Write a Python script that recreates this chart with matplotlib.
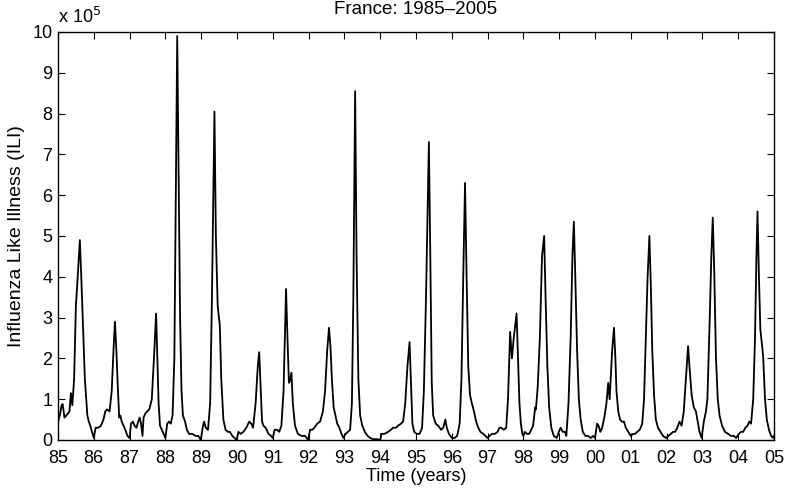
import numpy as np
import matplotlib
matplotlib.use("Agg")
import matplotlib.pyplot as plt

# weekly ILI cases (x 1e5) at key points
t_years = [
    85.00, 85.05, 85.10, 85.13, 85.18, 85.23, 85.28, 85.32, 85.36, 85.40,
    85.45, 85.50, 85.53, 85.61, 85.65, 85.69, 85.75, 85.82, 85.86, 85.90,
    85.95, 86.00, 86.05, 86.12, 86.20, 86.27, 86.32, 86.37, 86.44, 86.50,
    86.55, 86.59, 86.63, 86.67, 86.71, 86.74, 86.78, 86.83, 86.88, 86.94,
    87.00, 87.04, 87.09, 87.14, 87.19, 87.24, 87.28, 87.32, 87.36, 87.39,
    87.44, 87.49, 87.55, 87.62, 87.68, 87.74, 87.78, 87.81, 87.85, 87.90,
    87.95, 88.00, 88.05, 88.10, 88.15, 88.20, 88.25, 88.29, 88.33, 88.37,
    88.41, 88.45, 88.49, 88.55, 88.60, 88.66, 88.75, 88.85, 88.92, 88.99,
    89.04, 89.08, 89.13, 89.19, 89.25, 89.30, 89.37, 89.41, 89.46, 89.52,
    89.56, 89.62, 89.68, 89.74, 89.80, 89.87, 89.93, 89.99, 90.04, 90.10,
    90.18, 90.26, 90.34, 90.40, 90.45, 90.52, 90.58, 90.62, 90.66, 90.70,
    90.74, 90.80, 90.88, 90.95, 91.00, 91.05, 91.12, 91.18, 91.24, 91.30,
    91.37, 91.41, 91.45, 91.48, 91.52, 91.56, 91.62, 91.70, 91.80, 91.90,
    91.99, 92.04, 92.10, 92.16, 92.24, 92.32, 92.40, 92.46, 92.52, 92.57,
    92.61, 92.65, 92.70, 92.75, 92.80, 92.86, 92.92, 92.97, 93.03, 93.10,
    93.16, 93.21, 93.25, 93.30, 93.34, 93.39, 93.44, 93.50, 93.57, 93.65,
    93.72, 93.80, 93.90, 94.00, 94.04, 94.12, 94.22, 94.30, 94.36, 94.44,
    94.50, 94.58, 94.64, 94.70, 94.76, 94.82, 94.86, 94.90, 94.95, 95.02,
    95.10, 95.17, 95.22, 95.28, 95.36, 95.40, 95.44, 95.48, 95.55, 95.62,
    95.70, 95.76, 95.82, 95.86, 95.92, 96.00, 96.08, 96.15, 96.22, 96.27,
    96.32, 96.37, 96.41, 96.46, 96.51, 96.56, 96.62, 96.68, 96.74, 96.80,
    96.88, 96.94, 96.99, 97.05, 97.12, 97.20, 97.28, 97.33, 97.38, 97.45,
    97.52, 97.57, 97.63, 97.68, 97.73, 97.81, 97.85, 97.89, 97.93, 97.97,
    98.00, 98.04, 98.10, 98.16, 98.22, 98.27, 98.33, 98.35, 98.40, 98.46,
    98.52, 98.58, 98.62, 98.67, 98.72, 98.78, 98.85, 98.93, 98.99, 99.04,
    99.10, 99.16, 99.20, 99.26, 99.32, 99.37, 99.41, 99.45, 99.50, 99.55,
    99.60, 99.66, 99.73, 99.80, 99.88, 99.95, 100.00, 100.06, 100.10, 100.15,
    100.20, 100.26, 100.32, 100.37, 100.41, 100.44, 100.48, 100.53, 100.57, 100.60,
    100.65, 100.70, 100.75, 100.81, 100.86, 100.93, 101.00, 101.06, 101.12, 101.18,
    101.25, 101.32, 101.37, 101.42, 101.47, 101.52, 101.56, 101.60, 101.65, 101.70,
    101.76, 101.83, 101.90, 101.98, 102.05, 102.12, 102.18, 102.24, 102.30, 102.36,
    102.42, 102.48, 102.54, 102.60, 102.64, 102.70, 102.76, 102.82, 102.87, 102.92,
    102.98, 103.04, 103.10, 103.14, 103.20, 103.25, 103.29, 103.33, 103.38, 103.43,
    103.48, 103.55, 103.63, 103.72, 103.80, 103.88, 103.94, 104.02, 104.08, 104.14,
    104.20, 104.26, 104.31, 104.36, 104.42, 104.47, 104.51, 104.54, 104.58, 104.62,
    104.67, 104.70, 104.75, 104.80, 104.86, 104.92, 104.98, 105.00,
]
ili = [
    0.45, 0.60, 0.85, 0.88, 0.55, 0.60, 0.65, 0.70, 1.15, 0.85,
    1.50, 3.30, 3.70, 4.90, 4.00, 3.00, 1.50, 0.60, 0.45, 0.35,
    0.20, 0.05, 0.30, 0.30, 0.35, 0.50, 0.70, 0.75, 0.70, 1.20,
    2.20, 2.90, 2.20, 1.30, 0.55, 0.60, 0.45, 0.35, 0.25, 0.10,
    0.05, 0.40, 0.45, 0.35, 0.30, 0.45, 0.55, 0.40, 0.10, 0.55,
    0.65, 0.70, 0.75, 1.00, 2.00, 3.10, 1.80, 0.90, 0.35, 0.25,
    0.15, 0.05, 0.40, 0.45, 0.40, 0.60, 2.00, 6.00, 9.90, 6.50,
    3.00, 1.20, 0.60, 0.45, 0.25, 0.15, 0.15, 0.10, 0.10, 0.00,
    0.30, 0.45, 0.30, 0.25, 0.90, 3.50, 8.05, 5.00, 3.30, 2.80,
    1.50, 0.50, 0.25, 0.20, 0.20, 0.10, 0.05, 0.00, 0.20, 0.15,
    0.20, 0.30, 0.45, 0.40, 0.30, 0.90, 1.80, 2.15, 1.30, 0.45,
    0.35, 0.30, 0.15, 0.10, 0.05, 0.25, 0.25, 0.20, 0.35, 1.20,
    3.70, 2.50, 1.40, 1.45, 1.65, 0.90, 0.35, 0.15, 0.10, 0.10,
    0.00, 0.25, 0.25, 0.30, 0.40, 0.45, 0.70, 1.20, 2.20, 2.75,
    2.30, 1.50, 0.80, 0.60, 0.40, 0.30, 0.15, 0.05, 0.15, 0.20,
    0.25, 0.90, 3.50, 8.55, 4.50, 1.50, 0.60, 0.35, 0.20, 0.10,
    0.05, 0.02, 0.02, 0.00, 0.15, 0.15, 0.20, 0.25, 0.30, 0.30,
    0.35, 0.40, 0.45, 0.90, 1.80, 2.40, 1.40, 0.40, 0.20, 0.15,
    0.15, 0.30, 1.20, 3.50, 7.30, 4.50, 1.40, 0.60, 0.40, 0.35,
    0.25, 0.30, 0.50, 0.30, 0.15, 0.05, 0.05, 0.10, 0.40, 1.50,
    4.00, 6.30, 4.20, 1.80, 1.10, 0.90, 0.70, 0.45, 0.30, 0.20,
    0.15, 0.10, 0.05, 0.10, 0.15, 0.15, 0.20, 0.30, 0.30, 0.25,
    0.30, 1.00, 2.65, 2.00, 2.50, 3.10, 2.00, 0.90, 0.40, 0.15,
    0.10, 0.20, 0.15, 0.15, 0.25, 0.35, 0.80, 0.75, 1.30, 2.50,
    4.50, 5.00, 3.50, 1.80, 0.80, 0.30, 0.10, 0.05, 0.20, 0.30,
    0.20, 0.20, 0.10, 0.90, 2.50, 4.50, 5.35, 4.00, 2.20, 1.00,
    0.50, 0.20, 0.10, 0.10, 0.05, 0.10, 0.05, 0.40, 0.35, 0.20,
    0.30, 0.55, 0.90, 1.40, 1.00, 1.50, 2.20, 2.75, 2.00, 1.20,
    0.70, 0.50, 0.45, 0.45, 0.30, 0.20, 0.10, 0.15, 0.15, 0.20,
    0.25, 0.40, 1.00, 2.50, 4.00, 5.00, 3.80, 2.20, 1.10, 0.50,
    0.30, 0.20, 0.10, 0.05, 0.10, 0.15, 0.20, 0.20, 0.30, 0.45,
    0.35, 0.70, 1.50, 2.30, 1.80, 1.10, 0.80, 0.70, 0.45, 0.20,
    0.05, 0.45, 0.70, 1.00, 2.80, 4.50, 5.45, 4.20, 2.00, 1.00,
    0.60, 0.35, 0.20, 0.15, 0.10, 0.10, 0.05, 0.15, 0.20, 0.20,
    0.30, 0.35, 0.45, 0.40, 1.00, 2.50, 4.50, 5.60, 4.00, 2.70,
    2.30, 2.00, 1.00, 0.50, 0.25, 0.10, 0.05, 0.10,
]

year_ticks = list(range(85, 106))
year_labels = ["%02d" % (y % 100) for y in year_ticks]
y_ticks = list(range(0, 11))

plt.rcParams['font.family'] = ['Liberation Sans', 'DejaVu Sans']

fig = plt.figure(figsize=(7.86, 4.92), dpi=100)
ax = fig.add_axes([0.0738, 0.1057, 0.9109, 0.8293])

ax.plot(t_years, np.array(ili) * 1e5, color='black', lw=1.3)

ax.set_xlim(85, 105)
ax.set_ylim(0, 1e6)
ax.set_xticks(year_ticks)
ax.set_xticklabels(year_labels)
ax.set_yticks(np.array(y_ticks) * 1e5)
ax.set_yticklabels([str(v) for v in y_ticks])
ax.tick_params(direction='in', length=5, width=0.8, top=True, right=True,
               labelsize=13, colors='black')
ax.tick_params(axis='x', pad=7)
ax.tick_params(axis='y', pad=4)
for s in ax.spines.values():
    s.set_linewidth(1.0)

ax.set_title("France: 1985\u20132005", fontsize=13.5, pad=13)
ax.set_xlabel("Time (years)", fontsize=13, labelpad=1)
ax.set_ylabel("Influenza Like Illness (ILI)", fontsize=14, labelpad=5)
ax.text(0.0, 1.012, r"x 10$^{5}$", transform=ax.transAxes, fontsize=13,
        ha='left', va='bottom')

fig.savefig("out.png", dpi=100)
